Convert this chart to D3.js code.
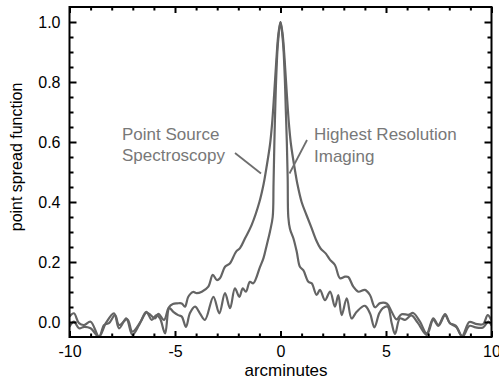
<!DOCTYPE html>
<html lang="en">
  <head>
    <meta charset="utf-8">
    <title>Point spread function</title>
    <style>
      body { margin: 0; background: #fff; }
      text { font-family: "Liberation Sans", Arial, sans-serif; }
      .axis text { font-size: 16px; fill: #000; }
      .axis line { stroke: #000; stroke-width: 2px; }
      .axis path { display: none; }
      .psf { fill: none; stroke: #646464; stroke-width: 2.2px; stroke-linejoin: round; }
      .note { font-size: 17px; fill: #787878; }
      .leader { stroke: #6e6e6e; stroke-width: 1.8px; }
    </style>
  </head>
  <body>
    <svg width="499" height="381"></svg>

  <script src="https://cdn.jsdelivr.net/npm/d3@7/dist/d3.min.js"></script>
  <script>
  // ticks
  var xMajor = [-10, -5, 0, 5, 10];
  var xMinor = [-9, -8, -7, -6, -4, -3, -2, -1, 1, 2, 3, 4, 6, 7, 8, 9];
  var yMajor = [0, 0.2, 0.4, 0.6, 0.8, 1.0];
  var yMinor = [0.05, 0.1, 0.15, 0.25, 0.3, 0.35, 0.45, 0.5, 0.55, 0.65, 0.7, 0.75, 0.85, 0.9, 0.95];

  // wide curve - point source spectroscopy
  var spectroX = [-10, -9.79, -9.55, -9.31, -9.0, -8.6, -8.36, -8.13, -7.84, -7.65, -7.26, -7.02, -6.63, -6.36, -6.15, -5.95, -5.79, -5.52, -5.3, -5.1, -4.9, -4.68, -4.53, -4.37, -4.15, -3.97, -3.73, -3.42, -3.21, -3.02, -2.87, -2.63, -2.39, -2.11, -1.92, -1.68, -1.37, -1.0, -0.8, -0.7, -0.5, -0.4, -0.3, -0.2, -0.1, 0,
                  0.1, 0.2, 0.3, 0.4, 0.5, 0.7, 0.8, 1.0, 1.24, 1.48, 1.71, 1.9, 2.15, 2.35, 2.58, 2.82, 3.06, 3.21, 3.45, 3.69, 4.0, 4.24, 4.48, 4.72, 5.05, 5.27, 5.5, 5.74, 6.06, 6.29, 6.61, 6.93, 7.24, 7.48, 7.8, 8.03, 8.3, 8.6, 8.95, 9.25, 9.6, 9.82, 10];
  var spectroY = [0.018, 0.029, -0.004, -0.01, 0.001, -0.049, -0.01, -0.004, 0.023, -0.01, 0.009, -0.032, 0.001, 0.031, 0.023, 0.012, 0.027, 0.007, 0.048, 0.06, 0.062, 0.062, 0.051, 0.084, 0.1, 0.096, 0.101, 0.118, 0.157, 0.14, 0.146, 0.184, 0.196, 0.234, 0.246, 0.279, 0.323, 0.40, 0.46, 0.50, 0.59, 0.66, 0.76, 0.87, 0.96, 1.0,
                  0.96, 0.87, 0.76, 0.66, 0.59, 0.50, 0.46, 0.40, 0.355, 0.312, 0.27, 0.245, 0.228, 0.207, 0.19, 0.146, 0.151, 0.15, 0.118, 0.101, 0.107, 0.09, 0.049, 0.063, 0.061, 0.034, 0.009, 0.026, 0.024, 0.03, 0.001, -0.038, 0.012, -0.01, 0.026, -0.004, -0.012, -0.047, 0.0, -0.006, -0.007, 0.023, 0.005];

  // narrow curve - highest resolution imaging
  var imagingX = [-10, -9.79, -9.55, -9.3, -9.0, -8.6, -8.28, -7.89, -7.65, -7.31, -7.02, -6.7, -6.36, -6.1, -5.88, -5.71, -5.47, -5.27, -5.08, -4.85, -4.68, -4.48, -4.29, -4.05, -3.82, -3.58, -3.18, -2.9, -2.63, -2.39, -2.16, -1.95, -1.79, -1.64, -1.45, -1.29, -0.97, -0.81, -0.65, -0.5, -0.37, -0.33, -0.29, -0.25, -0.2, -0.12, 0,
                  0.12, 0.2, 0.25, 0.3, 0.34, 0.37, 0.45, 0.61, 0.77, 0.92, 1.08, 1.32, 1.48, 1.71, 1.87, 2.11, 2.35, 2.58, 2.74, 2.9, 3.14, 3.37, 3.61, 4.0, 4.24, 4.45, 4.68, 4.85, 5.08, 5.27, 5.43, 5.66, 5.9, 6.2, 6.5, 6.93, 7.24, 7.48, 7.8, 8.03, 8.35, 8.63, 8.95, 9.25, 9.6, 9.85, 10];
  var imagingY = [-0.016, 0.001, -0.021, -0.016, -0.021, -0.049, -0.004, 0.029, -0.021, 0.012, -0.043, -0.01, 0.034, 0.007, 0.023, 0.012, -0.038, 0.046, 0.034, 0.023, 0.018, -0.016, 0.03, 0.051, 0.029, 0.007, 0.084, 0.029, 0.096, 0.046, 0.112, 0.084, 0.112, 0.101, 0.134, 0.129, 0.184, 0.212, 0.257, 0.301, 0.35, 0.46, 0.60, 0.71, 0.82, 0.93, 1.0,
                  0.93, 0.82, 0.71, 0.60, 0.48, 0.35, 0.31, 0.279, 0.234, 0.184, 0.173, 0.134, 0.129, 0.09, 0.107, 0.073, 0.101, 0.051, 0.09, 0.023, 0.079, 0.012, 0.034, 0.054, 0.029, -0.018, 0.029, 0.046, 0.051, -0.004, -0.04, 0.012, 0.007, 0.022, -0.002, -0.043, 0.007, -0.013, 0.022, -0.004, -0.018, -0.049, -0.013, -0.018, -0.018, 0.001, -0.012];

  var noteSpectro = ["Point Source", "Spectroscopy"];
  var noteImaging = ["Highest Resolution", "Imaging"];

  var svg = d3.select("svg");
  var mLeft = 69.5, mRight = 491.5, mTop = 7, mBottom = 337;

  var x = d3.scaleLinear().domain([-10, 10]).range([mLeft, mRight]);
  var y = d3.scaleLinear().domain([-0.05, 1.05]).range([mBottom, mTop]);

  svg.append("defs").append("clipPath").attr("id", "plot")
    .append("rect").attr("x", mLeft).attr("y", mTop)
    .attr("width", mRight - mLeft).attr("height", mBottom - mTop);

  function pairs(xs, ys) {
    return xs.map(function(d, i) { return [d, ys[i]]; });
  }

  var line = d3.line()
    .x(function(d) { return x(d[0]); })
    .y(function(d) { return y(d[1]); })
    .curve(d3.curveCatmullRom.alpha(0.5));

  var curves = svg.append("g").attr("clip-path", "url(#plot)");
  curves.append("path").attr("class", "psf").attr("d", line(pairs(spectroX, spectroY)));
  curves.append("path").attr("class", "psf").attr("d", line(pairs(imagingX, imagingY)));

  // axes, ticks point inward
  svg.append("g").attr("class", "axis").attr("transform", "translate(0," + mBottom + ")")
    .call(d3.axisBottom(x).tickValues(xMajor).tickSize(-6).tickPadding(9).tickFormat(function(d) { return String(d); }));
  svg.append("g").attr("class", "axis").attr("transform", "translate(0," + mBottom + ")")
    .call(d3.axisBottom(x).tickValues(xMinor).tickSize(-3.5).tickFormat(""));
  svg.append("g").attr("class", "axis").attr("transform", "translate(0," + mTop + ")")
    .call(d3.axisTop(x).tickValues(xMajor).tickSize(-6).tickFormat(""));
  svg.append("g").attr("class", "axis").attr("transform", "translate(0," + mTop + ")")
    .call(d3.axisTop(x).tickValues(xMinor).tickSize(-3.5).tickFormat(""));

  svg.append("g").attr("class", "axis").attr("transform", "translate(" + mLeft + ",0)")
    .call(d3.axisLeft(y).tickValues(yMajor).tickSize(-7).tickPadding(9).tickFormat(d3.format(".1f")));
  svg.append("g").attr("class", "axis").attr("transform", "translate(" + mLeft + ",0)")
    .call(d3.axisLeft(y).tickValues(yMinor).tickSize(-4).tickFormat(""));
  svg.append("g").attr("class", "axis").attr("transform", "translate(" + mRight + ",0)")
    .call(d3.axisRight(y).tickValues(yMajor).tickSize(-7).tickFormat(""));
  svg.append("g").attr("class", "axis").attr("transform", "translate(" + mRight + ",0)")
    .call(d3.axisRight(y).tickValues(yMinor).tickSize(-4).tickFormat(""));

  svg.append("rect")
    .attr("x", mLeft).attr("y", mTop)
    .attr("width", mRight - mLeft).attr("height", mBottom - mTop)
    .attr("fill", "none").attr("stroke", "#000").attr("stroke-width", 2);

  // axis titles
  svg.append("text").attr("x", 286).attr("y", 376)
    .attr("text-anchor", "middle").style("font-size", "17px")
    .text("arcminutes");
  svg.append("text")
    .attr("transform", "translate(22,157) rotate(-90)")
    .attr("text-anchor", "middle").style("font-size", "16px")
    .text("point spread function");

  // annotations
  svg.append("g").selectAll("text").data(noteSpectro).enter().append("text")
    .attr("class", "note").attr("x", 122)
    .attr("y", function(d, i) { return 140 + i * 20.5; })
    .text(function(d) { return d; });
  svg.append("g").selectAll("text").data(noteImaging).enter().append("text")
    .attr("class", "note").attr("x", 314)
    .attr("y", function(d, i) { return 140 + i * 21.5; })
    .text(function(d) { return d; });

  svg.append("line").attr("class", "leader")
    .attr("x1", 235).attr("y1", 153).attr("x2", 261).attr("y2", 173.5);
  svg.append("line").attr("class", "leader")
    .attr("x1", 307).attr("y1", 140).attr("x2", 289.5).attr("y2", 173.5);
  </script>
  </body>
</html>
